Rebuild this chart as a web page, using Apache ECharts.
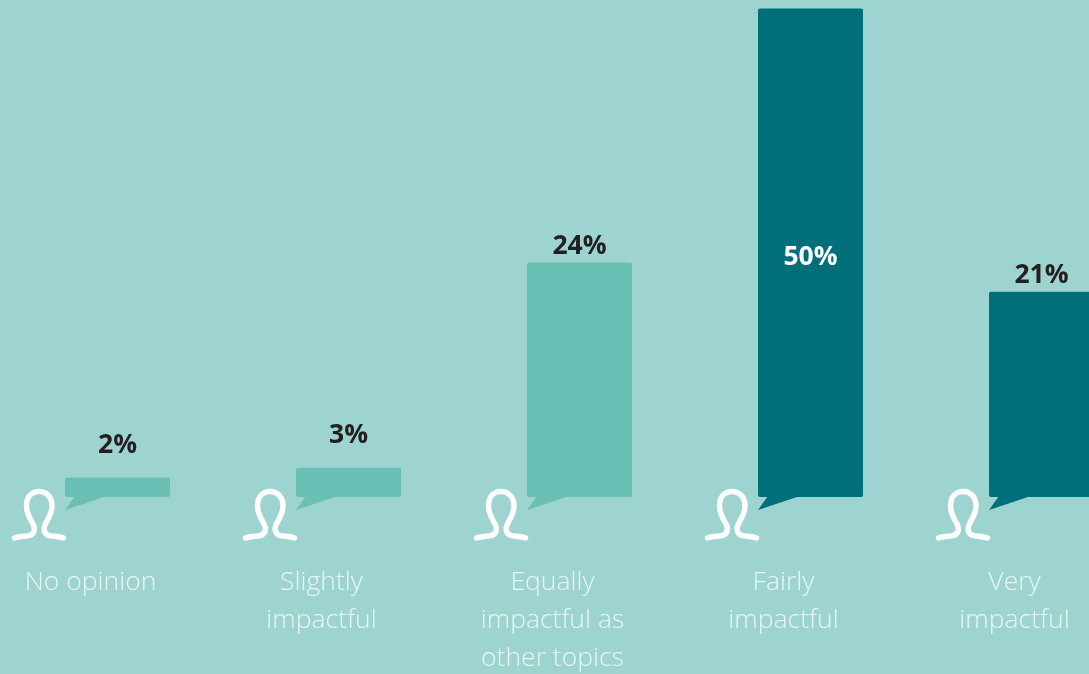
<!DOCTYPE html>
<html>
<head>
<meta charset="utf-8">
<style>html,body{margin:0;padding:0;background:#9dd4cf;overflow:hidden}#chart{width:1089px;height:674px}</style>
<script src="https://cdn.jsdelivr.net/npm/echarts@6/dist/echarts.min.js"></script>
</head>
<body>
<div id="chart"></div>
<script>
const categories = ['No opinion', 'Slightly\nimpactful', 'Equally\nimpactful as\nother topics', 'Fairly\nimpactful', 'Very\nimpactful'];
const shares = [2, 3, 24, 50, 21];

const LIGHT = '#6bc0b5';
const DARK = '#006f7a';
const barWidth = 105;

// Person glyph, drawn in its own local coordinates
const personPath = 'M0 46.5 C5 44.5 12 45 15 44 C20 42.5 21 37.5 19 33.5 C16 27.5 12 22.5 12 14.5 ' +
  'C12 5.5 17 0 24.5 0 C32 0 37.5 5.5 37.5 14.5 C37.5 22.5 33 27.5 30.5 33.5 ' +
  'C28.5 37.5 29.5 42.5 34.5 44 C37.5 45 44 44.5 49 46.5';

function barColor(value) {
  return value >= 50 || value === 21 ? DARK : LIGHT;
}

function barLabel(value) {
  if (value === 50) {
    return { position: 'inside', color: '#ffffff', offset: [0, 5] };
  }
  // Taller bars carry a tighter label gap
  return { position: 'top', distance: value >= 20 ? 3 : 18.5, color: '#231f20' };
}

const chart = echarts.init(document.getElementById('chart'), null, { renderer: 'canvas' });
chart.setOption({
  animation: false,
  backgroundColor: '#9dd4cf',
  grid: { left: 2, top: 8.5, width: 1155, height: 488.5, outerBoundsMode: 'none' },
  xAxis: {
    type: 'category',
    data: categories,
    axisLine: { show: false },
    axisTick: { show: false },
    axisLabel: {
      interval: 0,
      margin: 66,
      padding: [0, 54, 0, 0],
      color: '#e8f6f4',
      fontFamily: 'Open Sans',
      fontWeight: 300,
      fontSize: 26.5,
      lineHeight: 38,
      verticalAlign: 'top'
    }
  },
  yAxis: { type: 'value', min: 0, max: 50, show: false },
  series: [
    {
      type: 'bar',
      barWidth: barWidth,
      data: shares.map(v => ({
        value: v,
        itemStyle: { color: barColor(v), borderRadius: 2 },
        label: barLabel(v)
      })),
      label: {
        show: true,
        formatter: '{c}%',
        fontFamily: 'Open Sans',
        fontWeight: 700,
        fontSize: 26.5
      }
    },
    {
      // Speech-bubble tail and person glyph under each bar
      type: 'custom',
      data: shares,
      encode: { x: 0 },
      renderItem(params, api) {
        const base = api.coord([params.dataIndex, 0]);
        const left = base[0] - barWidth / 2;
        const y = base[1];
        return {
          type: 'group',
          children: [
            {
              type: 'polygon',
              shape: { points: [[left + 10, y - 1], [left, y + 13], [left + 42, y - 1]] },
              style: { fill: barColor(api.value(1)) }
            },
            {
              type: 'path',
              shape: {
                pathData: personPath,
                x: left - 50.5,
                y: y - 5.5,
                width: 49,
                height: 46.5,
                layout: 'cover'
              },
              style: { fill: 'none', stroke: '#ffffff', lineWidth: 5.5, lineCap: 'round', lineJoin: 'round' }
            }
          ]
        };
      }
    }
  ]
});
</script>
</body>
</html>
